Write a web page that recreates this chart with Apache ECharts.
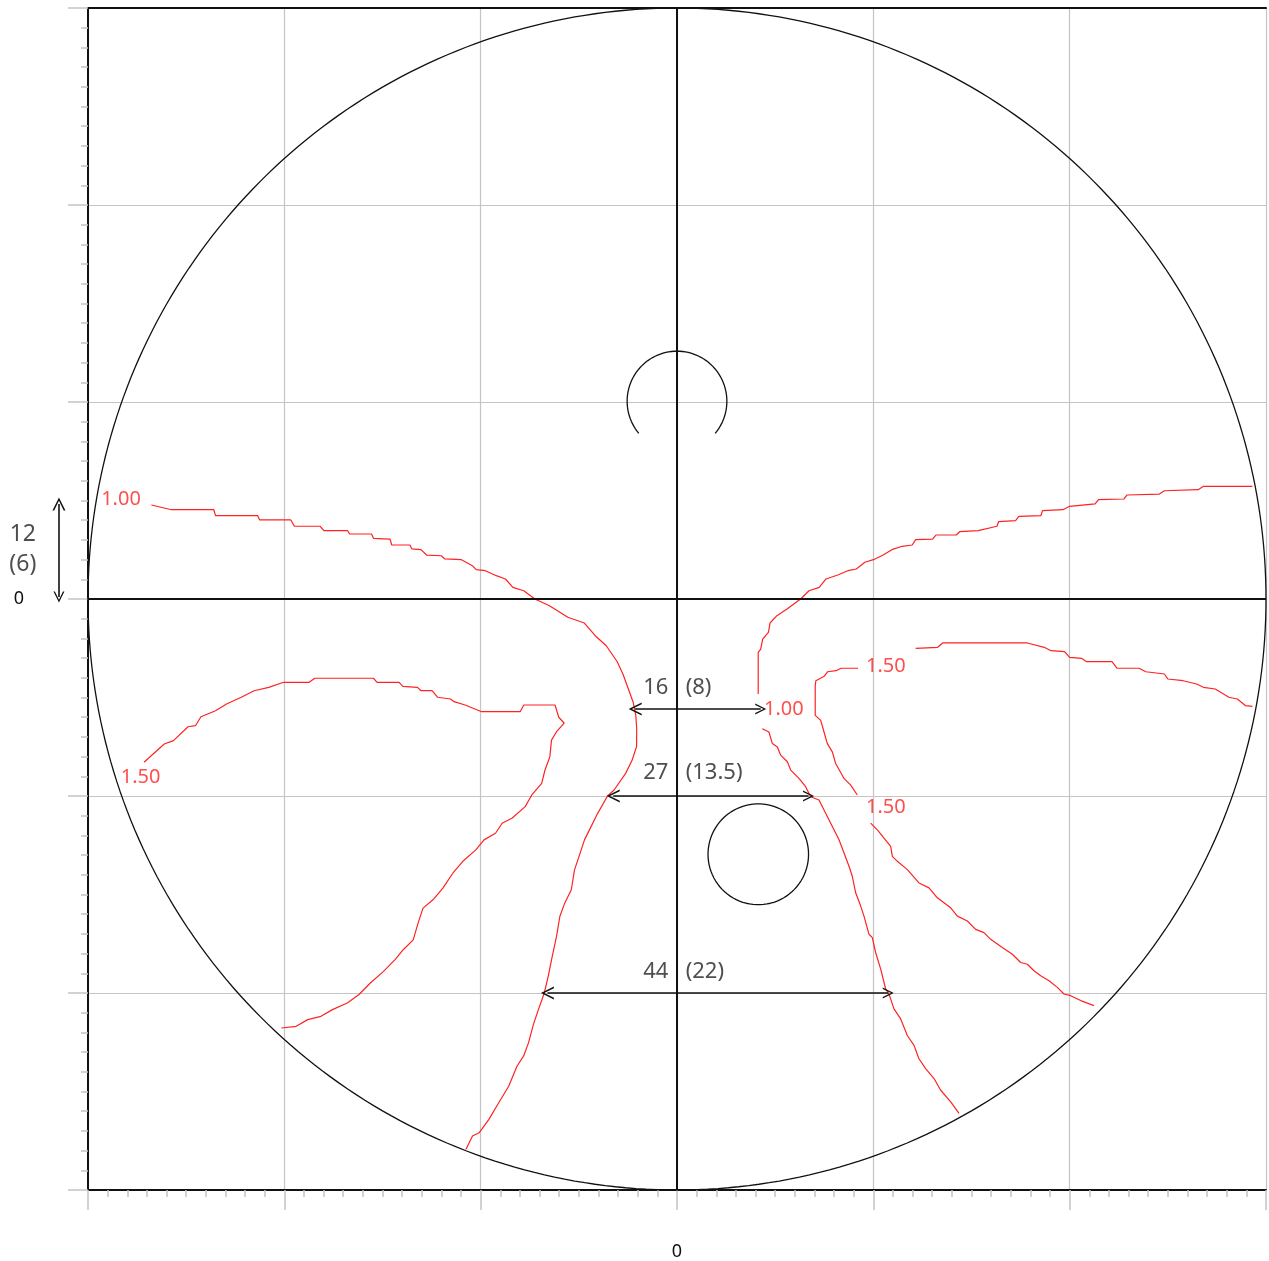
<!DOCTYPE html>
<html><head><meta charset="utf-8">
<script src="https://cdn.jsdelivr.net/npm/echarts@6/dist/echarts.min.js"></script>
<style>html,body{margin:0;padding:0;background:#fff}#c{width:1269px;height:1261px}</style>
</head><body><div id="c"></div>
<script>
// ---- axis ----
const AXIS_MIN = -75, AXIS_MAX = 75, AXIS_STEP = 25;

// ---- contour lines (x, y in axis units) ----
const left100 = [[-66.93,11.93],[-64.35,11.33],[-58.98,11.33],[-58.76,10.57],[-53.38,10.57],[-53.15,10.03],[-49.18,10.03],[-48.71,9.23],[-45.43,9.23],[-44.96,8.67],[-41.93,8.67],[-41.69,8.25],[-38.90,8.25],[-38.65,7.70],[-36.55,7.61],[-36.32,6.85],[-34.01,6.85],[-33.76,6.35],[-32.61,6.26],[-31.88,5.58],[-30.01,5.49],[-29.57,5.08],[-27.45,4.99],[-26.05,4.23],[-25.57,3.72],[-24.40,3.59],[-23.01,2.96],[-21.84,2.54],[-20.90,1.48],[-19.51,1.05],[-18.10,0],[-16.24,-0.85],[-13.90,-2.32],[-11.80,-3.05],[-10.41,-4.66],[-9.01,-5.93],[-7.61,-7.96],[-6.89,-9.52],[-6.19,-11.42],[-5.58,-13.11],[-5.24,-14.81],[-5.13,-16.50],[-5.15,-18.74],[-5.71,-20.43],[-6.54,-22.13],[-8.01,-24.24],[-8.85,-25.0],[-10.10,-27.20],[-11.78,-30.57],[-12.41,-32.47],[-13.05,-34.38],[-13.46,-36.90],[-14.30,-38.60],[-14.92,-40.29],[-15.34,-42.82],[-15.98,-45.79],[-16.40,-47.89],[-16.90,-50.0],[-17.65,-52.11],[-18.29,-54.01],[-18.91,-56.33],[-19.54,-58.02],[-20.38,-59.29],[-21.43,-61.83],[-22.70,-63.93],[-23.95,-66.04],[-25.20,-67.74],[-26.04,-68.15],[-26.88,-69.85]];

const left150 = [[-67.87,-20.72],[-65.29,-18.40],[-64.12,-17.98],[-62.26,-16.21],[-61.32,-16.08],[-60.62,-14.94],[-58.76,-14.18],[-57.36,-13.32],[-55.48,-12.47],[-53.85,-11.64],[-51.98,-11.21],[-50.10,-10.57],[-46.84,-10.57],[-46.13,-10.06],[-38.65,-10.06],[-38.19,-10.57],[-35.38,-10.57],[-34.91,-11.08],[-33.05,-11.21],[-32.59,-11.64],[-31.18,-11.64],[-30.48,-12.47],[-28.85,-12.69],[-28.38,-13.03],[-26.98,-13.45],[-24.87,-14.30],[-19.97,-14.30],[-19.51,-13.45],[-15.53,-13.45],[-15.06,-15.01],[-14.37,-15.74],[-15.34,-16.84],[-15.98,-17.91],[-16.19,-20.01],[-16.81,-21.70],[-17.23,-23.40],[-18.49,-24.87],[-19.33,-26.35],[-21.02,-27.83],[-22.27,-28.46],[-23.11,-29.73],[-24.57,-30.57],[-25.62,-31.84],[-27.30,-33.32],[-28.55,-34.80],[-29.81,-36.70],[-31.07,-38.17],[-32.34,-39.23],[-32.97,-41.13],[-33.59,-43.25],[-34.86,-44.51],[-35.90,-45.77],[-37.37,-47.26],[-39.05,-48.73],[-40.52,-50.22],[-41.99,-51.27],[-43.87,-52.11],[-45.34,-52.96],[-47.02,-53.38],[-48.49,-54.23],[-50.38,-54.44]];

const right100a = [[73.27,14.30],[67.03,14.30],[66.37,13.87],[62.06,13.74],[61.42,13.32],[57.32,13.20],[56.90,12.69],[53.67,12.60],[53.24,12.06],[50.0,11.76],[49.14,11.33],[46.55,11.21],[46.33,10.57],[43.53,10.49],[43.11,9.94],[40.95,9.81],[40.74,9.23],[38.36,8.67],[35.99,8.54],[35.56,8.12],[32.97,8.12],[32.54,7.61],[30.39,7.53],[29.95,6.85],[28.67,6.69],[27.37,6.26],[26.08,5.49],[25.0,4.99],[23.92,4.66],[22.84,3.81],[21.76,3.59],[20.47,3.05],[18.97,2.54],[18.11,1.48],[16.81,1.05],[15.74,0],[14.01,-1.27],[12.72,-2.12],[11.85,-3.05],[11.64,-4.23],[10.91,-5.08],[10.66,-6.35],[10.34,-6.76],[10.34,-12.06]];
const right100b = [[10.86,-16.46],[11.71,-16.88],[12.14,-18.35],[12.78,-18.77],[13.20,-19.82],[14.05,-20.66],[14.48,-21.71],[15.53,-22.77],[16.38,-23.82],[17.02,-25.09],[18.08,-25.51],[18.93,-27.18],[19.78,-28.87],[20.63,-30.56],[21.27,-32.23],[21.90,-33.92],[22.32,-35.19],[22.75,-37.28],[23.39,-38.97],[23.81,-40.24],[24.45,-42.55],[24.87,-42.97],[25.29,-44.86],[25.94,-46.97],[26.57,-49.49],[26.99,-50.13],[27.63,-52.02],[28.48,-53.29],[29.33,-55.39],[30.18,-56.65],[30.81,-58.34],[31.66,-59.59],[32.73,-60.86],[33.58,-62.34],[34.85,-63.81],[35.91,-65.28]];

const right150a = [[73.27,-13.62],[72.41,-13.54],[71.35,-12.69],[70.27,-12.47],[68.54,-11.42],[67.03,-11.21],[66.17,-10.79],[64.44,-10.37],[62.50,-10.15],[62.07,-9.52],[59.70,-9.23],[58.83,-8.79],[56.04,-8.79],[55.39,-7.96],[52.16,-7.96],[51.51,-7.53],[50.0,-7.40],[49.35,-6.69],[47.63,-6.56],[46.76,-6.13],[44.61,-5.58],[33.83,-5.58],[33.19,-6.13],[30.39,-6.26]];
const right150b = [[23.06,-8.79],[20.90,-8.79],[20.25,-9.10],[19.18,-9.23],[18.74,-9.81],[17.68,-10.37],[17.6,-11.00],[17.6,-14.77],[18.3,-15.41],[18.72,-16.88],[19.14,-18.35],[19.78,-19.40],[20.20,-20.88],[21.27,-22.77],[22.12,-23.62],[22.96,-24.87]];
const right150c = [[24.66,-28.45],[25.51,-29.29],[26.36,-30.34],[27.21,-31.40],[27.42,-32.66],[28.06,-33.29],[29.33,-34.34],[30.81,-36.03],[32.09,-36.66],[33.15,-37.92],[34.85,-39.19],[35.70,-40.24],[36.97,-40.86],[38.03,-41.92],[39.09,-42.34],[39.94,-43.19],[41.42,-44.24],[42.70,-45.08],[43.76,-46.13],[44.61,-46.35],[45.46,-47.18],[46.31,-47.82],[47.37,-48.44],[48.43,-49.29],[49.28,-50.13],[50.13,-50.34],[51.40,-50.96],[53.10,-51.60]];

// contour labels: [x, y, text]
const contourLabels = [[-70.8,12.7,'1.00'],[-68.3,-22.6,'1.50'],[13.6,-14.0,'1.00'],[26.6,-8.5,'1.50'],[26.6,-26.4,'1.50']];

// ---- circles: [cx, cy, r, startDeg, endDeg] ----
const fieldCircle = [0, 0, 75, 0, 360];
const blindSpot = [10.35, -32.4, 6.4, 0, 360];
const fixationArc = [0, 25.1, 6.35, -40, 220];

// ---- width arrows: [x1, y1, x2, y2] ----
const arrows = [[-5.33,-13.96,10.66,-13.96],[-8.12,-25,16.75,-25],[-16.5,-50,26.9,-50],[-78.7,12.06,-78.7,0.25]];
// width annotations: [y, left text, right text]
const widthTexts = [[-11.2,'16','(8)'],[-22.1,'27','(13.5)'],[-47.3,'44','(22)']];
const sideTexts = [[-83.3,8.2,'12'],[-83.3,4.4,'(6)']];

function arcPoints(c, n) {
  const [cx, cy, r, a0, a1] = c; const pts = [];
  for (let i = 0; i <= n; i++) { const a = (a0 + (a1 - a0) * i / n) * Math.PI / 180; pts.push([cx + r * Math.cos(a), cy + r * Math.sin(a)]); }
  return pts;
}

const RED = '#ff2222', GRAY = '#c4c4c4', FONT = 'Noto Sans';
const chevron = 'path://M0,12 L6,0 L12,12 L10.4,12 L6,3 L1.6,12 Z';

function contourSeries(d) {
  return { type: 'line', data: d, symbol: 'none', silent: true, animation: false, z: 3,
    lineStyle: { color: RED, width: 1.2 } };
}
function blackLine(d) {
  return { type: 'line', data: d, symbol: 'none', silent: true, animation: false, z: 3,
    lineStyle: { color: '#111', width: 1.3 } };
}

const chart = echarts.init(document.getElementById('c'));
chart.setOption({
  backgroundColor: '#fff',
  animation: false,
  grid: { left: 88, right: 0, top: 8, bottom: 71 },
  xAxis: [{
    type: 'value', min: AXIS_MIN, max: AXIS_MAX, interval: AXIS_STEP, position: 'bottom',
    axisLine: { show: true, onZero: false, lineStyle: { color: '#111', width: 2 } },
    axisTick: { show: true, length: 20, lineStyle: { color: GRAY, width: 1.5 } },
    minorTick: { show: true, splitNumber: 10, length: 7, lineStyle: { color: GRAY, width: 1.5 } },
    splitLine: { show: true, lineStyle: { color: GRAY, width: 1.2 } },
    axisLabel: { margin: 53, fontSize: 18, fontFamily: FONT, color: '#111', formatter: v => v === 0 ? '0' : '' }
  }, {
    type: 'value', min: AXIS_MIN, max: AXIS_MAX, position: 'top',
    axisLine: { show: true, onZero: false, lineStyle: { color: '#111', width: 2 } },
    axisTick: { show: false }, axisLabel: { show: false }, splitLine: { show: false }
  }],
  yAxis: {
    type: 'value', min: AXIS_MIN, max: AXIS_MAX, interval: AXIS_STEP,
    axisLine: { show: true, onZero: false, lineStyle: { color: '#111', width: 2 } },
    axisTick: { show: true, length: 20, lineStyle: { color: GRAY, width: 1.5 } },
    minorTick: { show: true, splitNumber: 10, length: 7, lineStyle: { color: GRAY, width: 1.5 } },
    splitLine: { show: true, lineStyle: { color: GRAY, width: 1.2 } },
    axisLabel: { margin: 64, fontSize: 18, fontFamily: FONT, color: '#111', formatter: v => v === 0 ? '0' : '' }
  },
  series: [
    { type: 'line', data: [], symbol: 'none', silent: true, z: 2,
      markLine: { silent: true, symbol: 'none', animation: false, label: { show: false },
        lineStyle: { color: '#111', width: 2, type: 'solid' },
        data: [{ xAxis: 0 }, { yAxis: 0 }] } },
    blackLine(arcPoints(fieldCircle, 360)),
    blackLine(arcPoints(blindSpot, 90)),
    blackLine(arcPoints(fixationArc, 80)),
    contourSeries(left100), contourSeries(left150),
    contourSeries(right100a), contourSeries(right100b),
    contourSeries(right150a), contourSeries(right150b), contourSeries(right150c),
    { type: 'lines', coordinateSystem: 'cartesian2d', clip: false, silent: true, z: 5,
      symbol: [chevron, chevron], symbolSize: [13, 11],
      lineStyle: { color: '#111', width: 1.6, opacity: 1 },
      data: arrows.map(a => ({ coords: [[a[0], a[1]], [a[2], a[3]]] })) },
    { type: 'scatter', data: contourLabels.map(l => ({ value: [l[0], l[1]], name: l[2] })),
      symbolSize: 0, silent: true, z: 6, clip: false,
      label: { show: true, position: 'inside', formatter: p => p.name, color: RED, fontSize: 20, fontFamily: FONT } },
    { type: 'scatter', data: widthTexts.map(t => ({ value: [-1.1, t[0]], name: t[1] })),
      symbolSize: 0, silent: true, z: 6,
      label: { show: true, position: 'left', distance: 0, formatter: p => p.name, color: '#222', fontSize: 22, fontFamily: FONT } },
    { type: 'scatter', data: widthTexts.map(t => ({ value: [1.1, t[0]], name: t[2] })),
      symbolSize: 0, silent: true, z: 6,
      label: { show: true, position: 'right', distance: 0, formatter: p => p.name, color: '#222', fontSize: 22, fontFamily: FONT } },
    { type: 'scatter', data: sideTexts.map(t => ({ value: [t[0], t[1]], name: t[2] })),
      symbolSize: 0, silent: true, z: 6, clip: false,
      label: { show: true, position: 'inside', formatter: p => p.name, color: '#222', fontSize: 23, fontFamily: FONT } }
  ]
});
</script></body></html>
